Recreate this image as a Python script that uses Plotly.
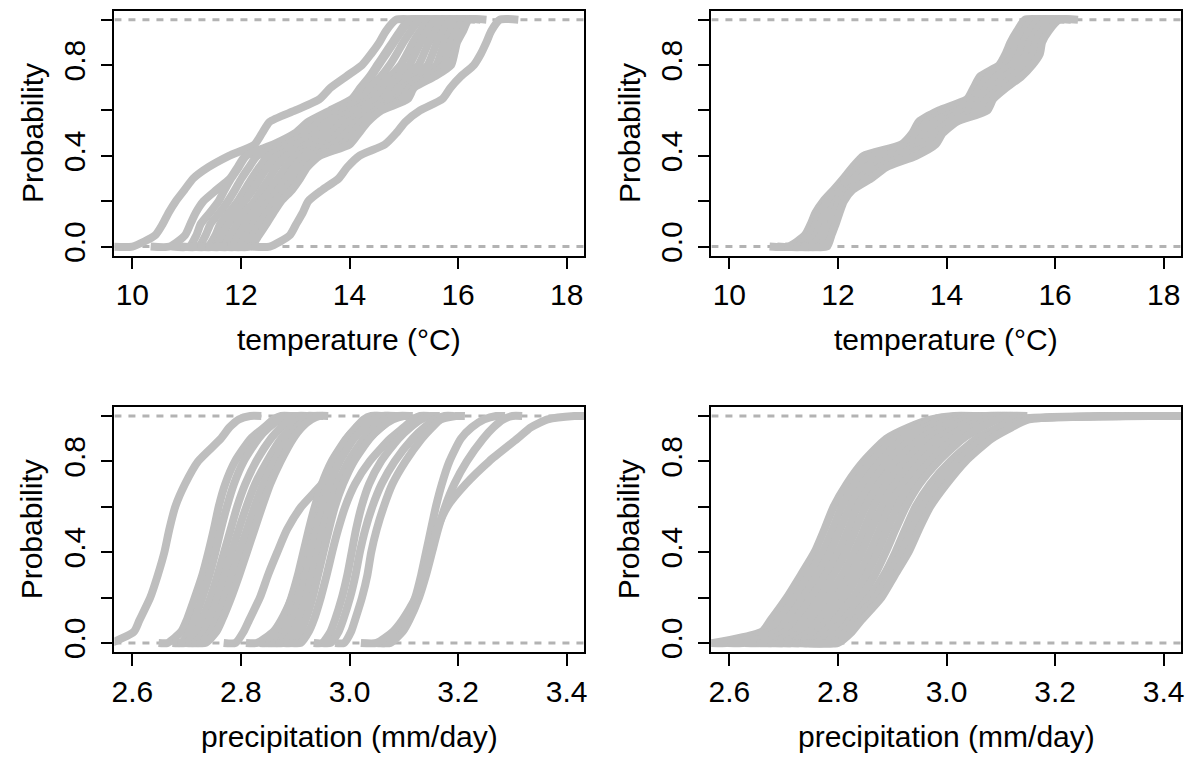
import plotly.graph_objects as go

# ---------------- data ----------------
# probability levels at which each curve's x-value was read
P_TEMP = [0.0, 0.05, 0.10, 0.15, 0.20, 0.25, 0.30, 0.35, 0.40, 0.45, 0.50,
          0.55, 0.60, 0.65, 0.70, 0.75, 0.80, 0.85, 0.90, 0.95, 1.0]
P_PREC = [0.0, 0.05, 0.10, 0.20, 0.30, 0.40, 0.50, 0.60, 0.70, 0.80, 0.90, 0.95, 0.985, 1.0]

# top-left: temperature curves
temp_left = [
    [10.00, 10.42, 10.56, 10.67, 10.80, 10.96, 11.12, 11.40, 11.78, 12.25, 12.39, 12.53, 13.00, 13.45, 13.65, 13.94, 14.23, 14.40, 14.55, 14.67, 14.86],
    [10.69, 10.97, 11.07, 11.17, 11.31, 11.55, 11.80, 11.94, 12.08, 12.60, 13.00, 13.24, 13.64, 14.04, 14.20, 14.37, 14.51, 14.65, 14.79, 14.93, 15.10],
    [11.05, 11.18, 11.26, 11.43, 11.59, 11.70, 11.82, 11.96, 12.10, 12.65, 13.05, 13.28, 13.68, 14.08, 14.24, 14.40, 14.54, 14.68, 14.82, 14.96, 15.14],
    [11.22, 11.35, 11.44, 11.61, 11.76, 11.89, 12.01, 12.15, 12.30, 12.85, 13.22, 13.44, 13.82, 14.23, 14.38, 14.58, 14.74, 14.87, 14.99, 15.13, 15.30],
    [11.39, 11.53, 11.62, 11.78, 11.94, 12.07, 12.20, 12.34, 12.51, 13.02, 13.39, 13.60, 13.95, 14.38, 14.53, 14.75, 14.94, 15.06, 15.17, 15.30, 15.46],
    [11.52, 11.66, 11.77, 11.92, 12.07, 12.22, 12.35, 12.49, 12.67, 13.22, 13.52, 13.73, 14.06, 14.50, 14.64, 14.89, 15.10, 15.21, 15.31, 15.43, 15.59],
    [11.67, 11.81, 11.93, 12.07, 12.25, 12.38, 12.52, 12.65, 12.84, 13.39, 13.67, 13.86, 14.18, 14.62, 14.76, 15.04, 15.27, 15.37, 15.46, 15.58, 15.72],
    [11.82, 11.96, 12.08, 12.23, 12.37, 12.54, 12.68, 12.82, 13.02, 13.57, 13.81, 14.00, 14.30, 14.75, 14.89, 15.20, 15.44, 15.53, 15.61, 15.73, 15.86],
    [11.95, 12.10, 12.23, 12.37, 12.51, 12.69, 12.84, 12.97, 13.18, 13.73, 13.95, 14.13, 14.41, 14.87, 15.00, 15.34, 15.60, 15.68, 15.75, 15.86, 15.99],
    [12.07, 12.22, 12.35, 12.48, 12.63, 12.82, 12.96, 13.09, 13.32, 13.87, 14.06, 14.23, 14.50, 14.97, 15.10, 15.45, 15.74, 15.81, 15.86, 15.98, 16.09],
    [12.18, 12.33, 12.47, 12.60, 12.74, 12.94, 13.09, 13.22, 13.45, 14.00, 14.17, 14.34, 14.59, 15.07, 15.19, 15.57, 15.87, 15.93, 15.98, 16.09, 16.20],
    [12.53, 12.90, 13.02, 13.14, 13.24, 13.50, 13.80, 13.96, 14.18, 14.65, 14.86, 15.03, 15.30, 15.71, 15.86, 16.05, 16.29, 16.42, 16.52, 16.61, 16.77],
]

# top-right: temperature curves
temp_right = [
    [11.09, 11.39, 11.50, 11.59, 11.73, 11.92, 12.10, 12.27, 12.47, 13.17, 13.37, 13.49, 13.86, 14.38, 14.50, 14.62, 14.97, 15.09, 15.18, 15.30, 15.45],
    [11.23, 11.49, 11.59, 11.68, 11.81, 11.99, 12.20, 12.39, 12.66, 13.30, 13.48, 13.63, 14.04, 14.48, 14.62, 14.77, 15.09, 15.22, 15.30, 15.42, 15.58],
    [11.37, 11.59, 11.68, 11.77, 11.88, 12.06, 12.30, 12.52, 12.86, 13.42, 13.59, 13.77, 14.22, 14.57, 14.74, 14.92, 15.21, 15.34, 15.41, 15.53, 15.70],
    [11.52, 11.68, 11.78, 11.85, 11.96, 12.13, 12.41, 12.64, 13.05, 13.55, 13.71, 13.91, 14.39, 14.67, 14.86, 15.08, 15.34, 15.47, 15.53, 15.65, 15.83],
    [11.66, 11.78, 11.87, 11.94, 12.03, 12.20, 12.51, 12.77, 13.25, 13.67, 13.82, 14.05, 14.57, 14.76, 14.98, 15.23, 15.46, 15.59, 15.64, 15.76, 15.95],
    [11.80, 11.88, 11.96, 12.03, 12.11, 12.27, 12.61, 12.89, 13.44, 13.80, 13.93, 14.19, 14.75, 14.86, 15.10, 15.38, 15.58, 15.72, 15.76, 15.88, 16.08],
]

# bottom-left: precipitation curves
prec_left = [
    [2.560, 2.603, 2.613, 2.633, 2.647, 2.659, 2.668, 2.679, 2.697, 2.721, 2.763, 2.779, 2.796, 2.817],
    [2.665, 2.690, 2.700, 2.715, 2.729, 2.740, 2.750, 2.759, 2.771, 2.789, 2.818, 2.843, 2.860, 2.874],
    [2.690, 2.705, 2.714, 2.729, 2.742, 2.753, 2.763, 2.774, 2.787, 2.805, 2.832, 2.852, 2.872, 2.890],
    [2.700, 2.718, 2.728, 2.744, 2.757, 2.769, 2.781, 2.793, 2.808, 2.828, 2.855, 2.874, 2.890, 2.905],
    [2.715, 2.732, 2.741, 2.757, 2.770, 2.783, 2.796, 2.810, 2.826, 2.848, 2.874, 2.893, 2.908, 2.920],
    [2.725, 2.745, 2.755, 2.770, 2.784, 2.797, 2.811, 2.825, 2.841, 2.861, 2.886, 2.903, 2.920, 2.935],
    [2.735, 2.755, 2.765, 2.782, 2.797, 2.811, 2.825, 2.839, 2.854, 2.873, 2.896, 2.912, 2.930, 2.944],
    [2.790, 2.805, 2.815, 2.835, 2.850, 2.867, 2.885, 2.911, 2.949, 2.977, 3.002, 3.020, 3.042, 3.063],
    [2.830, 2.860, 2.874, 2.894, 2.910, 2.925, 2.943, 2.962, 2.983, 3.005, 3.035, 3.058, 3.075, 3.090],
    [2.850, 2.868, 2.878, 2.893, 2.905, 2.915, 2.925, 2.936, 2.949, 2.967, 2.994, 3.013, 3.030, 3.045],
    [2.860, 2.880, 2.890, 2.905, 2.917, 2.927, 2.937, 2.947, 2.958, 2.973, 2.995, 3.012, 3.026, 3.040],
    [2.870, 2.885, 2.895, 2.909, 2.920, 2.930, 2.940, 2.951, 2.964, 2.982, 3.008, 3.028, 3.045, 3.060],
    [2.880, 2.897, 2.906, 2.920, 2.931, 2.941, 2.951, 2.963, 2.978, 2.998, 3.026, 3.047, 3.066, 3.085],
    [2.895, 2.910, 2.919, 2.932, 2.942, 2.952, 2.962, 2.973, 2.988, 3.008, 3.037, 3.058, 3.080, 3.100],
    [2.910, 2.925, 2.934, 2.947, 2.958, 2.968, 2.979, 2.992, 3.010, 3.037, 3.075, 3.100, 3.117, 3.130],
    [2.950, 2.965, 2.973, 2.986, 2.996, 3.004, 3.012, 3.022, 3.036, 3.058, 3.090, 3.112, 3.132, 3.150],
    [2.965, 2.980, 2.988, 3.001, 3.011, 3.019, 3.029, 3.042, 3.059, 3.083, 3.116, 3.138, 3.158, 3.175],
    [2.990, 3.003, 3.010, 3.023, 3.033, 3.040, 3.050, 3.063, 3.079, 3.103, 3.133, 3.152, 3.168, 3.196],
    [3.065, 3.090, 3.104, 3.121, 3.132, 3.141, 3.150, 3.159, 3.170, 3.184, 3.205, 3.225, 3.248, 3.270],
    [3.075, 3.098, 3.110, 3.128, 3.141, 3.152, 3.163, 3.176, 3.193, 3.216, 3.246, 3.265, 3.283, 3.300],
    [3.050, 3.080, 3.097, 3.122, 3.136, 3.149, 3.161, 3.180, 3.214, 3.257, 3.309, 3.334, 3.365, 3.414],
]

# bottom-right: precipitation curves
prec_right = [
    [2.570, 2.660, 2.676, 2.706, 2.732, 2.757, 2.775, 2.792, 2.816, 2.847, 2.889, 2.930, 2.972, 3.014],
    [2.600, 2.675, 2.691, 2.721, 2.747, 2.772, 2.790, 2.807, 2.831, 2.862, 2.905, 2.945, 2.985, 3.026],
    [2.630, 2.689, 2.706, 2.736, 2.762, 2.786, 2.804, 2.822, 2.846, 2.878, 2.920, 2.960, 2.998, 3.038],
    [2.660, 2.704, 2.721, 2.751, 2.777, 2.801, 2.819, 2.836, 2.861, 2.893, 2.936, 2.975, 3.010, 3.049],
    [2.680, 2.719, 2.736, 2.767, 2.792, 2.815, 2.833, 2.851, 2.876, 2.908, 2.952, 2.990, 3.024, 3.061],
    [2.700, 2.734, 2.751, 2.782, 2.808, 2.830, 2.848, 2.866, 2.890, 2.924, 2.967, 3.005, 3.038, 3.073],
    [2.715, 2.748, 2.765, 2.797, 2.823, 2.844, 2.862, 2.881, 2.905, 2.939, 2.983, 3.020, 3.052, 3.085],
    [2.730, 2.763, 2.780, 2.812, 2.838, 2.859, 2.877, 2.895, 2.920, 2.954, 2.999, 3.035, 3.066, 3.096],
    [2.745, 2.776, 2.795, 2.828, 2.853, 2.873, 2.891, 2.910, 2.935, 2.970, 3.014, 3.050, 3.080, 3.108],
    [2.760, 2.790, 2.810, 2.843, 2.868, 2.888, 2.906, 2.925, 2.950, 2.985, 3.030, 3.065, 3.094, 3.120],
    [2.775, 2.805, 2.822, 2.858, 2.885, 2.906, 2.924, 2.943, 2.970, 3.007, 3.055, 3.095, 3.125, 3.280],
    [2.790, 2.815, 2.832, 2.869, 2.895, 2.918, 2.937, 2.957, 2.985, 3.021, 3.069, 3.108, 3.140, 3.330],
    [2.800, 2.826, 2.843, 2.880, 2.905, 2.930, 2.949, 2.970, 3.000, 3.035, 3.083, 3.120, 3.152, 3.400],
]

X_TICKS_TEMP = [10, 12, 14, 16, 18]
X_TICKTEXT_TEMP = ["10", "12", "14", "16", "18"]
X_TICKS_PREC = [2.6, 2.8, 3.0, 3.2, 3.4]
X_TICKTEXT_PREC = ["2.6", "2.8", "3.0", "3.2", "3.4"]
Y_TICKS = [0.0, 0.2, 0.4, 0.6, 0.8, 1.0]
Y_TICKTEXT = ["0.0", "", "0.4", "", "0.8", ""]

X_TITLE_TEMP = "temperature (°C)"
X_TITLE_PREC = "precipitation (mm/day)"
Y_TITLE = "Probability"

# ---------------- figure ----------------
W, H = 1194, 765
FONT = "Liberation Sans, Arial, Helvetica, sans-serif"
FS = 30
CURVE_COL = "#BEBEBE"
LINE01_COL = "#B3B3B3"

# panel pixel boxes (left, right, top, bottom)
boxes = {
    1: (112, 584, 10.7, 258),
    2: (712, 1184, 10.7, 258),
    3: (112, 584, 410.7, 658),
    4: (712, 1184, 410.7, 658),
}
xr_temp = [9.67, 18.32]
xr_prec = [2.567, 3.432]
yr = [-0.04, 1.04]

panels = [
    (1, temp_left, P_TEMP, xr_temp, X_TICKS_TEMP, X_TICKTEXT_TEMP, X_TITLE_TEMP),
    (2, temp_right, P_TEMP, xr_temp, X_TICKS_TEMP, X_TICKTEXT_TEMP, X_TITLE_TEMP),
    (3, prec_left, P_PREC, xr_prec, X_TICKS_PREC, X_TICKTEXT_PREC, X_TITLE_PREC),
    (4, prec_right, P_PREC, xr_prec, X_TICKS_PREC, X_TICKTEXT_PREC, X_TITLE_PREC),
]

fig = go.Figure()
annotations = []
layout_axes = {}

for idx, curves, plev, xr, xt, xtt, xtitle in panels:
    xa = "x" if idx == 1 else f"x{idx}"
    ya = "y" if idx == 1 else f"y{idx}"
    l, r, t, b = boxes[idx]

    # dashed reference lines at 0 and 1
    for yv in (0.0, 1.0):
        fig.add_trace(go.Scatter(
            x=xr, y=[yv, yv], mode="lines", xaxis=xa, yaxis=ya,
            line=dict(color=LINE01_COL, width=3, dash="7px,7px"),
            hoverinfo="skip", showlegend=False))

    # ECDF curves with horizontal tails
    for c in curves:
        ext = 0.08 * (c[-1] - c[0])
        xs = [c[0] - ext] + list(c) + [c[-1] + ext]
        ys = [0.0] + list(plev) + [1.0]
        fig.add_trace(go.Scatter(
            x=xs, y=ys, mode="lines", xaxis=xa, yaxis=ya,
            line=dict(color=CURVE_COL, width=8, shape="spline", smoothing=0.6),
            hoverinfo="skip", showlegend=False))

    axis_common = dict(showline=True, mirror=True, linecolor="black", linewidth=1.5,
                       ticks="outside", ticklen=12, tickwidth=1.5, tickcolor="black",
                       showgrid=False, zeroline=False,
                       tickfont=dict(family=FONT, size=FS, color="black"))
    layout_axes["xaxis" if idx == 1 else f"xaxis{idx}"] = dict(
        domain=[l / W, r / W], range=xr, anchor=ya,
        tickvals=xt, ticktext=xtt, **axis_common)
    layout_axes["yaxis" if idx == 1 else f"yaxis{idx}"] = dict(
        domain=[1 - b / H, 1 - t / H], range=yr, anchor=xa,
        tickvals=Y_TICKS, ticktext=Y_TICKTEXT, tickangle=-90,
        ticklabelstandoff=4, **axis_common)

    annotations.append(dict(
        x=(l + r) / 2 / W, y=1 - (b + 85) / H, xref="paper", yref="paper",
        text=xtitle, showarrow=False, xanchor="center", yanchor="middle",
        font=dict(family=FONT, size=FS, color="black")))
    annotations.append(dict(
        x=(l - 83) / W, y=1 - (t + b) / 2 / H, xref="paper", yref="paper",
        text=Y_TITLE, showarrow=False, textangle=-90, xanchor="center", yanchor="middle",
        font=dict(family=FONT, size=FS, color="black")))

fig.update_layout(
    width=W, height=H, margin=dict(l=0, r=0, t=0, b=0),
    paper_bgcolor="white", plot_bgcolor="white",
    showlegend=False, annotations=annotations, **layout_axes)

fig.write_html("out.html", config={"displayModeBar": False},
               post_script="document.body.style.margin='0px';document.body.style.overflow='hidden';")
